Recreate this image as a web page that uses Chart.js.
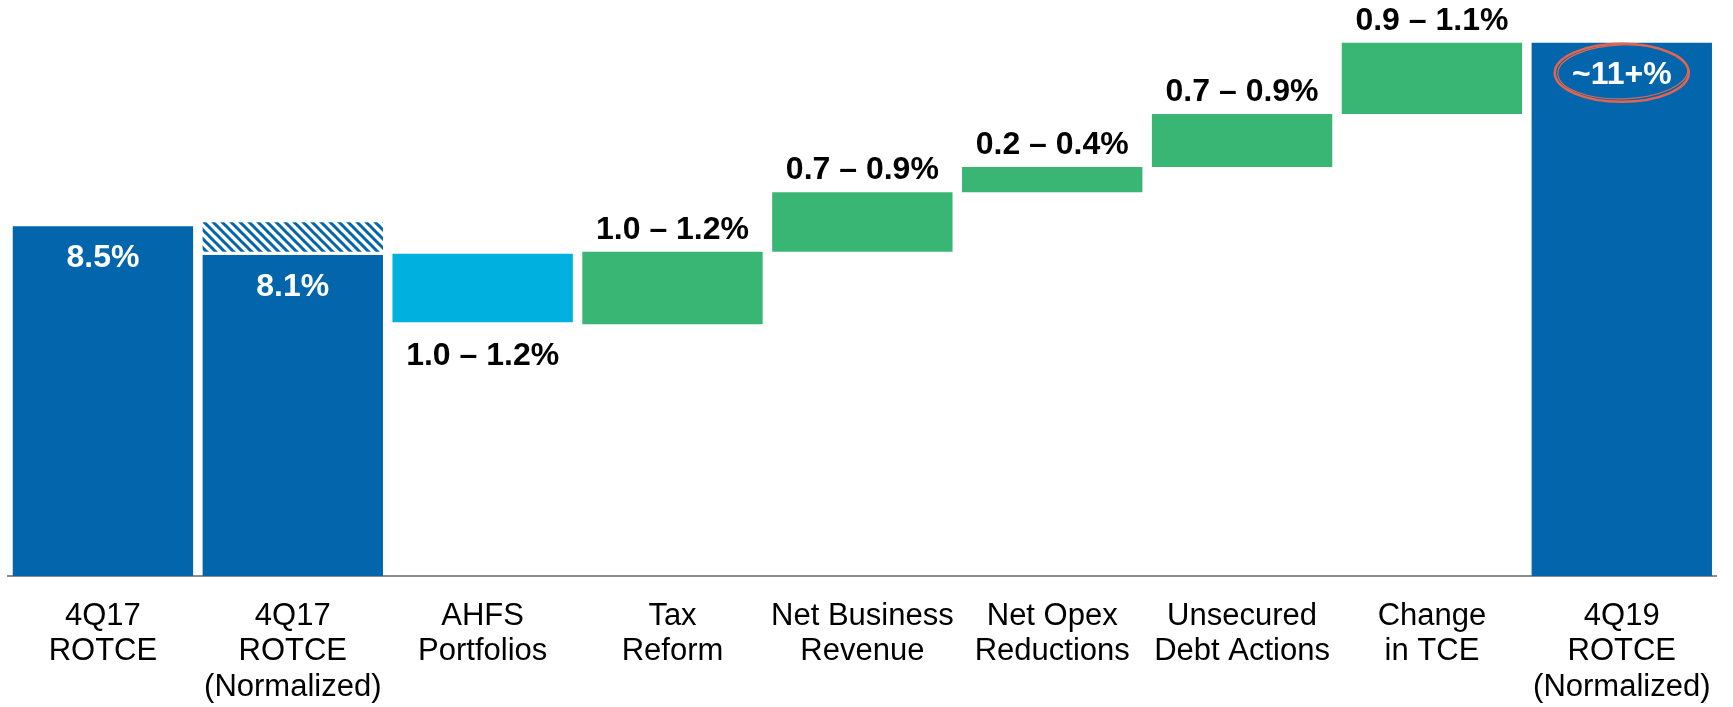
<!DOCTYPE html>
<html>
<head>
<meta charset="utf-8">
<script src="https://cdn.jsdelivr.net/npm/chart.js@4"></script>
<style>
  body { margin: 0; background: #fff; }
</style>
</head>
<body>
<canvas id="bridge" width="1733" height="707"></canvas>
<script>
// categories along the bottom
const categories = [
    ['4Q17', 'ROTCE'],
    ['4Q17', 'ROTCE', '(Normalized)'],
    ['AHFS', 'Portfolios'],
    ['Tax', 'Reform'],
    ['Net Business', 'Revenue'],
    ['Net Opex', 'Reductions'],
    ['Unsecured', 'Debt Actions'],
    ['Change', 'in TCE'],
    ['4Q19', 'ROTCE', '(Normalized)']
];

// floating bar ends (drawn units, not to true scale)
const barStart = [0, 0, 6.17, 6.12, 7.88, 9.33, 9.94, 11.23, 0];
const barEnd   = [8.5, 7.80, 7.83, 7.88, 9.33, 9.94, 11.23, 12.96, 12.96];

// hatched cap on the normalized 4Q17 bar
const hatchStart = [null, 7.88, null, null, null, null, null, null, null];
const hatchEnd   = [null, 8.60, null, null, null, null, null, null, null];

const barText  = ['8.5%', '8.1%', '1.0 \u2013 1.2%', '1.0 \u2013 1.2%', '0.7 \u2013 0.9%',
                  '0.2 \u2013 0.4%', '0.7 \u2013 0.9%', '0.9 \u2013 1.1%', '~11+%'];
const barPlace = ['inside', 'inside', 'below', 'above', 'above', 'above', 'above', 'above', 'inside'];

const DARK = '#0366ac';
const LIGHT = '#00b0df';
const GREEN = '#3ab674';
const barColors = [DARK, DARK, LIGHT, GREEN, GREEN, GREEN, GREEN, GREEN, DARK];

function hatch(color){
    const size = 9;
    const c = document.createElement('canvas');
    c.width = size; c.height = size;
    const g = c.getContext('2d');
    g.fillStyle = '#fff';
    g.fillRect(0, 0, size, size);
    g.strokeStyle = color;
    g.lineWidth = 3;
    g.beginPath();
    for (let k = -1; k <= 1; k++) {
        g.moveTo(-1, -1 + k * size);
        g.lineTo(size + 1, size + 1 + k * size);
    }
    g.stroke();
    return g.createPattern(c, 'repeat');
}

const barLabels = {
    id: 'barLabels',
    afterDatasetsDraw(chart){
        const ctx = chart.ctx;
        const meta = chart.getDatasetMeta(0);
        ctx.save();
        ctx.font = 'bold 32px "Liberation Sans", Arial, sans-serif';
        ctx.textAlign = 'center';
        ctx.textBaseline = 'middle';
        meta.data.forEach((bar, i) => {
            const top = Math.min(bar.y, bar.base);
            const bottom = Math.max(bar.y, bar.base);
            let y;
            if (barPlace[i] == 'inside') { ctx.fillStyle = '#fff'; y = top + 32; }
            else if (barPlace[i] == 'above') { ctx.fillStyle = '#000'; y = top - 22; }
            else { ctx.fillStyle = '#000'; y = bottom + 34; }
            ctx.fillText(barText[i], bar.x, y);

            // hand drawn ring round the target
            if (i == meta.data.length - 1) {
                ctx.strokeStyle = '#e2654f';
                ctx.lineWidth = 2.5;
                ctx.beginPath();
                ctx.ellipse(bar.x, y - 2, 67, 29, 0, 0, Math.PI * 2);
                ctx.stroke();
                ctx.lineWidth = 1.2;
                ctx.beginPath();
                ctx.ellipse(bar.x + 1, y - 3, 65, 27, -0.03, 0, Math.PI * 2);
                ctx.stroke();
            }
        });
        ctx.restore();
    }
};

const ctx = document.getElementById('bridge').getContext('2d');
const chart = new Chart(ctx, {
    type: 'bar',
    data: {
        labels: categories,
        datasets: [
            {
                label: 'ROTCE bridge',
                data: barStart.map((s, i) => [s, barEnd[i]]),
                backgroundColor: barColors,
                borderWidth: 0,
                grouped: false
            },
            {
                label: 'Normalization',
                data: hatchStart.map((s, i) => s == null ? null : [s, hatchEnd[i]]),
                backgroundColor: hatch(DARK),
                borderWidth: 0,
                grouped: false
            }
        ]
    },
    options: {
        responsive: false,
        animation: false,
        barPercentage: 0.95,
        categoryPercentage: 1,
        layout: { padding: { left: 8, right: 9, top: 0, bottom: 0 } },
        plugins: {
            legend: { display: false },
            tooltip: { enabled: false }
        },
        scales: {
            x: {
                grid: { display: false, drawTicks: false },
                border: { display: true, color: '#8c8c8c', width: 2 },
                ticks: {
                    color: '#000',
                    padding: 22,
                    maxRotation: 0,
                    autoSkip: false,
                    font: { family: '"Liberation Sans", Arial, sans-serif', size: 31, lineHeight: 1.16 }
                },
                afterFit: scale => { scale.height = 131; }
            },
            y: {
                display: false,
                min: 0,
                max: 14
            }
        }
    },
    plugins: [barLabels]
});
</script>
</body>
</html>
